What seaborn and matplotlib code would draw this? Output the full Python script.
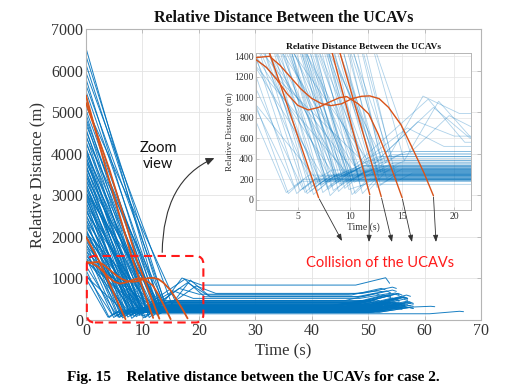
import numpy as np
import pandas as pd
import matplotlib
matplotlib.use("Agg")
import matplotlib.pyplot as plt
import seaborn as sns
from matplotlib.patches import FancyBboxPatch
from matplotlib.transforms import IdentityTransform

# ---------------- data ----------------
# blue pairs: start distance, time of first low point, low value, settled value,
# end time, value just before the end, final value, optional hump (time, value)
start_dist = [6540, 6350, 6150, 5950, 5800, 5650, 5500, 5300, 5150, 5050,
              4950, 4850, 4800, 4700, 4600, 4550, 4450, 4400, 4300, 4250,
              4150, 4100, 4050, 4000,
              3950, 3900, 3850, 3800, 3750, 3700, 3650, 3600, 3550, 3500,
              3450, 3400, 3350, 3300, 3250, 3200, 3150, 3100, 3080, 3050,
              3020, 3000,
              2950, 2900, 2850, 2800, 2750, 2700, 2650, 2600, 2550, 2500,
              2450, 2400, 2350, 2300, 2250, 2200, 2150, 2100, 2080, 2050,
              2020, 2000,
              1950, 1900, 1850, 1800, 1750, 1700, 1650, 1600, 1550, 1500,
              1480, 1450, 1420, 1300, 1200, 1100, 1050, 1000]
low_time = [13.2, 14.5, 13.8, 15.2, 12.9, 14.0, 13.5, 12.6, 15.8, 13.0,
            11.8, 12.5, 10.9, 13.4, 11.2, 12.2, 10.4, 13.9, 11.0, 12.7,
            10.2, 11.6, 9.8, 12.9,
            9.5, 11.4, 10.1, 12.3, 8.9, 10.8, 11.9, 9.2, 10.5, 8.6,
            12.6, 9.9, 11.1, 8.4, 10.3, 9.0, 11.7, 8.1, 10.0, 13.0,
            9.4, 7.9,
            8.2, 9.8, 7.4, 10.6, 8.7, 6.9, 9.3, 11.2, 7.8, 8.9,
            6.5, 10.1, 7.2, 8.4, 9.6, 6.2, 7.9, 11.6, 8.8, 5.9,
            7.0, 10.4,
            6.6, 8.1, 5.7, 9.4, 7.3, 5.2, 10.2, 6.4, 8.6, 4.9,
            11.5, 7.7, 9.8, 5.5, 4.1, 4.6, 6.8, 3.9]
low_dist = [260, 180, 320, 380, 150, 420, 210, 120, 460, 250,
            90, 300, 200, 360, 60, 240, 170, 400, 130, 280,
            50, 220, 160, 330,
            110, 260, 190, 350, 80, 230, 300, 140, 60, 200,
            380, 100, 250, 90, 210, 150, 320, 40, 180, 420,
            230, 100,
            130, 260, 70, 300, 160, 90, 220, 350, 120, 200,
            50, 280, 140, 190, 240, 80, 170, 400, 210, 60,
            150, 330,
            120, 200, 70, 260, 150, 90, 300, 130, 220, 60,
            350, 180, 250, 100, 60, 130, 200, 70]
settle_dist = [330, 260, 380, 560, 240, 450, 300, 220, 640, 340,
               260, 350, 280, 840, 230, 310, 250, 470, 210, 360,
               200, 300, 270, 420,
               240, 320, 290, 620, 220, 300, 380, 250, 210, 280,
               440, 150, 320, 200, 290, 260, 400, 190, 270, 600,
               310, 220,
               240, 330, 200, 360, 250, 210, 300, 420, 230, 280,
               190, 520, 240, 270, 320, 200, 260, 470, 290, 180,
               250, 560,
               230, 280, 210, 330, 250, 200, 380, 240, 300, 190,
               420, 270, 330, 230, 200, 240, 290, 180]
end_time = [55.5, 52.0, 57.0, 54.0, 50.5, 56.0, 48.0, 53.5, 55.0, 51.0,
            57.5, 49.5, 54.5, 53.8, 56.5, 52.5, 58.0, 55.5, 50.0, 57.0,
            53.0, 61.8, 55.0, 54.0,
            56.0, 51.5, 57.5, 52.5, 55.0, 49.0, 56.5, 53.5, 58.0, 54.5,
            55.5, 66.9, 52.0, 57.0, 50.5, 56.0, 54.0, 55.5, 58.0, 53.0,
            51.0, 56.5,
            54.0, 57.0, 52.5, 55.0, 49.5, 56.0, 53.5, 57.5, 51.5, 55.0,
            58.0, 54.5, 56.5, 50.0, 55.5, 53.0, 57.0, 52.0, 54.0, 56.0,
            51.0, 55.0,
            57.5, 53.0, 55.5, 49.5, 56.0, 54.0, 57.0, 52.5, 55.0, 58.0,
            53.5, 56.5, 50.5, 54.5, 57.0, 52.0, 55.5, 56.0]
end_peak = [520, 410, 560, 700, 380, 640, 420, 360, 790, 480,
            430, 470, 440, 1017, 370, 460, 400, 650, 330, 540,
            340, 330, 410, 600,
            390, 480, 450, 700, 360, 410, 560, 400, 350, 430,
            620, 210, 490, 330, 400, 420, 570, 310, 440, 760,
            450, 360,
            380, 500, 320, 530, 370, 330, 440, 600, 350, 420,
            300, 640, 370, 390, 480, 320, 400, 640, 430, 290,
            370, 720,
            360, 420, 330, 460, 390, 310, 550, 360, 440, 300,
            600, 400, 470, 350, 310, 370, 420, 280]
end_dist = [470, 380, 520, 650, 330, 600, 400, 320, 760, 450,
            400, 450, 410, 883, 340, 430, 380, 610, 300, 500,
            310, 320, 390, 560,
            350, 450, 420, 680, 330, 380, 520, 370, 330, 400,
            590, 200, 460, 300, 370, 390, 540, 290, 400, 730,
            420, 340,
            360, 470, 300, 500, 350, 310, 410, 570, 330, 390,
            280, 610, 350, 370, 450, 300, 380, 600, 400, 270,
            340, 690,
            340, 390, 310, 430, 360, 290, 520, 340, 410, 280,
            570, 380, 440, 330, 300, 350, 400, 260]
hump_time = [0] * 88
hump_dist = [0] * 88
for _idx, _t, _d in [(3, 18.5, 960), (8, 19.5, 820), (13, 17.0, 1010),
                     (27, 16.5, 760), (43, 18.0, 900), (57, 15.5, 700),
                     (67, 17.5, 980)]:
    hump_time[_idx] = _t
    hump_dist[_idx] = _d

# orange (colliding) pairs
orange_times = [
    [0, 2.3, 7.0],
    [0, 3.5, 8.3, 11.9],
    [0, 4.2, 9.05, 13.0],
    [0, 1, 2, 3, 4, 5, 6, 7, 8, 9, 9.7, 10.8, 11.8, 12.7, 13.7, 14.3, 15.0],
    [0, 1, 2.3, 3.3, 4.3, 5.3, 6.3, 7.3, 8.2, 9.2, 10.2, 11.1, 11.9, 12.8,
     13.7, 14.9, 16.1, 17.1, 18.0],
]
orange_dists = [
    [2000, 1430, 20],
    [5400, 3650, 1430, 50],
    [5220, 3600, 1430, 30],
    [1400, 1365, 1290, 1170, 1030, 920, 875, 900, 950, 995, 1005, 934, 836,
     641, 380, 218, 20],
    [1370, 1385, 1398, 1310, 1195, 1080, 990, 935, 917, 935, 985, 1008, 1012,
     985, 900, 730, 478, 260, 39],
]

x_ticks = [0, 10, 20, 30, 40, 50, 60, 70]
y_ticks = [0, 1000, 2000, 3000, 4000, 5000, 6000, 7000]
inset_x_ticks = [5, 10, 15, 20]
inset_y_ticks = [0, 200, 400, 600, 800, 1000, 1200, 1400]

# ---------------- tables ----------------
rows = []
for i in range(len(start_dist)):
    ts = [0, low_time[i]]
    ds = [start_dist[i], low_dist[i]]
    if hump_time[i] > 0:
        ts += [hump_time[i], hump_time[i] + 3.5]
        ds += [hump_dist[i], settle_dist[i]]
    else:
        ts += [low_time[i] + 1.5]
        ds += [settle_dist[i]]
    ts += [end_time[i] - 6, end_time[i] - 0.7, end_time[i]]
    ds += [settle_dist[i], end_peak[i], end_dist[i]]
    for t, d in zip(ts, ds):
        rows.append((i, t, d))
blue_df = pd.DataFrame(rows, columns=["pair", "Time (s)", "Relative Distance (m)"])

orows = []
for j, (ts, ds) in enumerate(zip(orange_times, orange_dists)):
    for t, d in zip(ts, ds):
        orows.append((j, t, d))
orange_df = pd.DataFrame(orows, columns=["pair", "Time (s)", "Relative Distance (m)"])

# ---------------- style ----------------
sns.set_style("whitegrid", {"grid.color": "#e3e3e3", "axes.edgecolor": "#b5b5b5",
                            "xtick.bottom": True, "ytick.left": True})
plt.rcParams["font.family"] = ["Liberation Serif", "DejaVu Serif"]
plt.rcParams["axes.linewidth"] = 0.8

BLUE = "#0072BD"
ORANGE = "#D95319"
TXT = "#333333"

fig = plt.figure(figsize=(5.05, 3.91), dpi=100)
ax = fig.add_axes([86 / 505, 1 - 320 / 391, (481 - 86) / 505, (320 - 29) / 391])

sns.lineplot(data=blue_df, x="Time (s)", y="Relative Distance (m)", units="pair",
             estimator=None, sort=False, color=BLUE, lw=0.7, alpha=0.9,
             legend=False, ax=ax, zorder=2)
sns.lineplot(data=orange_df, x="Time (s)", y="Relative Distance (m)", units="pair",
             estimator=None, sort=False, color=ORANGE, lw=1.3,
             legend=False, ax=ax, zorder=3)

ax.set_xlim(0, 70)
ax.set_ylim(0, 7000)
ax.set_xticks(x_ticks)
ax.set_yticks(y_ticks)
ax.tick_params(axis="both", labelsize=11.5, labelcolor=TXT, color="#b5b5b5",
               direction="in", length=3, width=0.6, top=True, right=True, pad=2)
ax.grid(True, lw=0.6)
ax.set_xlabel("Time (s)", fontsize=12, color=TXT, labelpad=3)
ax.set_ylabel("Relative Distance (m)", fontsize=12, color=TXT, labelpad=4)
ax.set_title("Relative Distance Between the UCAVs", fontsize=11.5,
             fontweight="bold", color="#111111", pad=5)

# ---------------- inset ----------------
axin = fig.add_axes([256 / 505, 1 - 210 / 391, (471 - 256) / 505, (210 - 53) / 391],
                    zorder=5)
axin.set_facecolor("white")
sns.lineplot(data=blue_df, x="Time (s)", y="Relative Distance (m)", units="pair",
             estimator=None, sort=False, color=BLUE, lw=0.6, alpha=0.32,
             legend=False, ax=axin, zorder=2)
sns.lineplot(data=orange_df, x="Time (s)", y="Relative Distance (m)", units="pair",
             estimator=None, sort=False, color=ORANGE, lw=1.0,
             legend=False, ax=axin, zorder=3)
axin.set_xlim(1, 21.6)
axin.set_ylim(-100, 1430)
axin.set_xticks(inset_x_ticks)
axin.set_yticks(inset_y_ticks)
axin.tick_params(axis="both", labelsize=7, labelcolor=TXT, color="#b5b5b5",
                 direction="in", length=2, width=0.5, pad=1.5)
axin.grid(True, lw=0.5)
for s in axin.spines.values():
    s.set_color("#b5b5b5")
    s.set_linewidth(0.7)
axin.set_xlabel("Time (s)", fontsize=7, color=TXT, labelpad=1)
axin.set_ylabel("Relative Distance (m)", fontsize=6.5, color=TXT, labelpad=1)
axin.set_title("Relative Distance Between the UCAVs", fontsize=6.8,
               fontweight="bold", color="#111111", pad=3)

# ---------------- annotations ----------------
fig.canvas.draw()
p0 = ax.transData.transform((0.15, -60))
p1 = ax.transData.transform((20.8, 1540))
box = FancyBboxPatch((p0[0], p0[1]), p1[0] - p0[0], p1[1] - p0[1],
                     boxstyle="round,pad=0,rounding_size=8",
                     transform=IdentityTransform(), fill=False,
                     edgecolor="#FF1A1A", lw=1.5, linestyle=(0, (4, 2.6)),
                     zorder=6)
fig.add_artist(box)

ax.annotate("", xy=(217, 391 - 157), xycoords="figure pixels",
            xytext=(13.5, 1560), textcoords="data",
            arrowprops=dict(arrowstyle="-|>,head_length=0.5,head_width=0.22",
                            color="#333333", lw=0.8,
                            connectionstyle="angle3,angleA=90,angleB=22"),
            annotation_clip=False, zorder=7)
fig.text(158 / 505, 1 - 156 / 391, "Zoom\nview", ha="center", va="center",
         fontsize=10.5, family=["Lato", "DejaVu Sans"], color="#111111",
         linespacing=1.25)

arrow_ends = [(342, 241), (369, 242), (392, 242), (412, 242), (436, 242)]
arrow_starts = [(7.0, 20), (11.9, 50), (13.0, 30), (15.0, 20), (18.0, 39)]
for (sx, sy), (ex, ey) in zip(arrow_starts, arrow_ends):
    axin.annotate("", xy=(ex, 391 - ey), xycoords="figure pixels",
                  xytext=(sx, sy), textcoords="data",
                  arrowprops=dict(arrowstyle="-|>,head_length=0.4,head_width=0.15",
                                  color="#333333", lw=0.6, shrinkA=1, shrinkB=0),
                  annotation_clip=False, zorder=7)

fig.text(380 / 505, 1 - 263 / 391, "Collision of the UCAVs", ha="center",
         va="center", fontsize=10.5, family=["Lato", "DejaVu Sans"], color="#FF1A1A")

fig.text(253 / 505, 1 - 378 / 391,
         "Fig. 15    Relative distance between the UCAVs for case 2.",
         ha="center", va="center", fontsize=11, fontweight="bold",
         color="black")

fig.savefig("out.png", dpi=100)
